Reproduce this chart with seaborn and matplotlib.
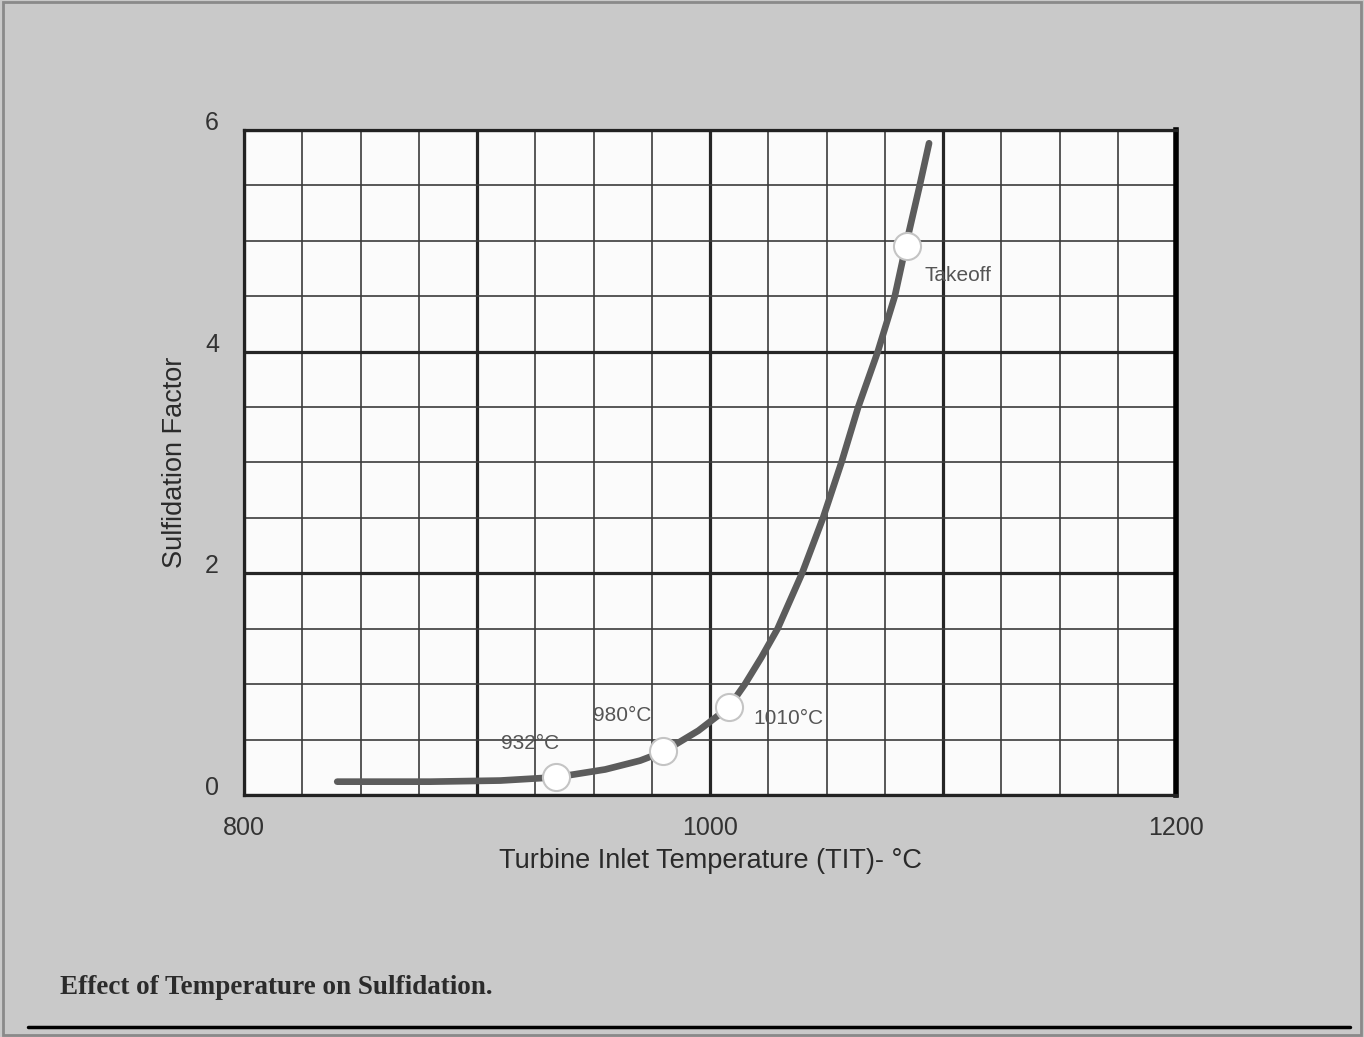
import matplotlib.pyplot as plt
import seaborn as sns
import pandas as pd
from matplotlib.lines import Line2D
from matplotlib.patches import Rectangle
from matplotlib.ticker import MultipleLocator

# curve
temp = [840, 880, 910, 934, 955, 970, 980, 995, 1008, 1015, 1022, 1029, 1039.5,
        1048.5, 1056.4, 1063.6, 1072, 1079.3, 1084.5, 1090, 1094]
factor = [0.12, 0.12, 0.13, 0.16, 0.23, 0.31, 0.39, 0.58, 0.79, 1.0, 1.24, 1.5, 2.0,
          2.5, 3.0, 3.5, 4.0, 4.5, 5.0, 5.5, 5.88]

# marked operating points
point_temp = [934, 980, 1008, 1084.5]
point_factor = [0.16, 0.40, 0.79, 4.95]
point_labels = ["932°C", "980°C", "1010°C", "Takeoff"]

x_ticks = [800, 1000, 1200]
y_ticks = [0, 2, 4, 6]

curve = pd.DataFrame({"temp": temp, "factor": factor})
points = pd.DataFrame({"temp": point_temp, "factor": point_factor})

sns.set_style("white")
plt.rcParams["font.family"] = ["Liberation Sans", "DejaVu Sans"]

fig = plt.figure(figsize=(13.64, 10.37), dpi=100, facecolor="#c9c9c9")
ax = fig.add_axes([0.1789, 0.2334, 0.6833, 0.6413])
ax.set_facecolor("#fbfbfb")

ax.set_xlim(800, 1200)
ax.set_ylim(0, 6)

# heavy lines every 100 degC / 2 units, light ones every 25 degC / 0.5
major_x = list(range(800, 1201, 100))
ax.set_xticks(major_x)
ax.set_xticklabels([str(v) if v in x_ticks else "" for v in major_x])
ax.set_yticks(y_ticks)
ax.set_yticklabels([str(v) for v in y_ticks])
ax.xaxis.set_minor_locator(MultipleLocator(25))
ax.yaxis.set_minor_locator(MultipleLocator(0.5))
ax.grid(which="major", color="#262626", lw=2.3)
ax.grid(which="minor", color="#3c3c3c", lw=1.2)
ax.set_axisbelow(True)

sns.lineplot(data=curve, x="temp", y="factor", ax=ax, color="#5c5c5c", lw=4.8,
             sort=False, zorder=3)
sns.scatterplot(data=points, x="temp", y="factor", ax=ax, s=380, color="white",
                edgecolor="#c4c4c4", linewidth=1.5, zorder=4)

# label offsets in points relative to each marker
offsets = [(-19, 24), (-30, 25), (43, -8), (37, -21)]
for tx, fy, lab, off in zip(point_temp, point_factor, point_labels, offsets):
    ax.annotate(lab, (tx, fy), xytext=off, textcoords="offset points",
                ha="center", va="center", fontsize=15, color="#555555")

ax.tick_params(which="both", length=0)
ax.tick_params(axis="x", pad=15, labelsize=18, labelcolor="#333333")
ax.tick_params(axis="y", pad=18, labelsize=18, labelcolor="#333333")
for lab in ax.get_yticklabels():
    lab.set_va("baseline")

ax.set_xlabel("Turbine Inlet Temperature (TIT)- °C", fontsize=19.5, color="#2a2a2a", labelpad=6)
ax.set_ylabel("Sulfidation Factor", fontsize=19.5, color="#2a2a2a", labelpad=12)

for side in ["top", "left", "bottom"]:
    ax.spines[side].set_color("#222222")
    ax.spines[side].set_linewidth(2.3)
ax.spines["right"].set_color("black")
ax.spines["right"].set_linewidth(4)

fig.text(60 / 1364, 1 - 988 / 1037, "Effect of Temperature on Sulfidation.",
         fontsize=19.5, fontweight="bold", family="Liberation Serif", color="#2b2b2b",
         va="center", ha="left")
fig.add_artist(Line2D([28 / 1364, 1350 / 1364], [1 - 1027 / 1037] * 2,
                      color="black", lw=2.5))
fig.add_artist(Rectangle((0.002, 0.002), 0.996, 0.996, transform=fig.transFigure,
                         fill=False, edgecolor="#8a8a8a", lw=2))

plt.savefig("out.png", dpi=100, facecolor=fig.get_facecolor())
